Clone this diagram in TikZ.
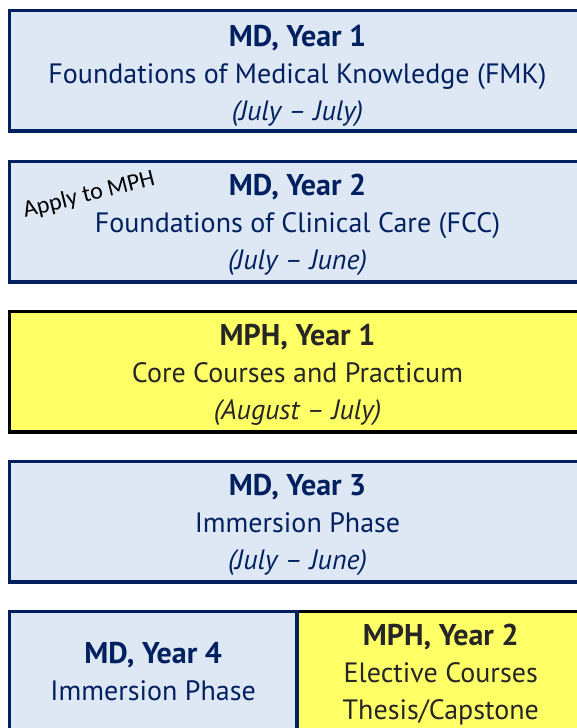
\documentclass[tikz,border=0pt]{standalone}
\usepackage{fontspec}
\setmainfont{PT Sans}
\newfontfamily\notefont{Carlito}
\usetikzlibrary{positioning}
\definecolor{navy}{HTML}{002060}
\definecolor{paleblue}{HTML}{DEE8F4}
\definecolor{lemon}{HTML}{FFFF66}
\definecolor{ink}{HTML}{262626}
\newcommand{\yearhead}[1]{{\fontsize{30}{37}\selectfont\bfseries #1}}

\begin{document}
\begin{tikzpicture}[x=1pt,y=-1pt,
    yearbox/.style={rectangle, line width=3.5pt, minimum width=576pt, minimum height=120.5pt,
        anchor=north west, inner sep=0pt},
    mdyear/.style={yearbox, draw=navy, fill=paleblue},
    mphyear/.style={yearbox, draw=black, fill=lemon},
    yeartext/.style={align=center, inner sep=0pt, font=\fontsize{28}{37}\selectfont},
    mdtext/.style={yeartext, text=navy},
    mphtext/.style={yeartext, text=ink}]
    \useasboundingbox (0,0) rectangle (577,728);
    \clip (0,0) rectangle (577,728);

    \node[mdyear] (md1) at (7.75,8.75) {};
    \node[mdyear] (md2) at (7.75,159.75) {};
    \node[mphyear] (mph1) at (7.75,309.75) {};
    \node[mdyear] (md3) at (7.75,459.75) {};
    \node[mphyear, minimum width=288pt] (mph2) at (295,609.75) {};
    \node[mdyear, minimum width=287.25pt] (md4) at (7.75,609.75) {};

    \node[mdtext] (md1t) at ([yshift=-5pt]md1.center) {\yearhead{MD, Year 1}\\Foundations of Medical Knowledge (FMK)\\\textit{(July -- July)}};
    \node[mdtext] (md2t) at ([yshift=-3pt]md2.center) {\yearhead{MD, Year 2}\\Foundations of Clinical Care (FCC)\\\textit{(July -- June)}};
    \node[mphtext] (mph1t) at ([yshift=-3pt]mph1.center) {\yearhead{MPH, Year 1}\\Core Courses and Practicum\\\textit{(August -- July)}};
    \node[mdtext] (md3t) at ([yshift=-3pt]md3.center) {\yearhead{MD, Year 3}\\Immersion Phase\\\textit{(July -- June)}};
    \node[mphtext] (mph2t) at ([yshift=-3pt]mph2.center) {\yearhead{MPH, Year 2}\\Elective Courses\\Thesis/Capstone};
    \node[mdtext] (md4t) at (md4.center) {\yearhead{MD, Year 4}\\Immersion Phase};

    \node[rotate=14, font=\notefont\fontsize{24}{24}\selectfont] (apply) at (89,195) {Apply to MPH};
\end{tikzpicture}
\end{document}
